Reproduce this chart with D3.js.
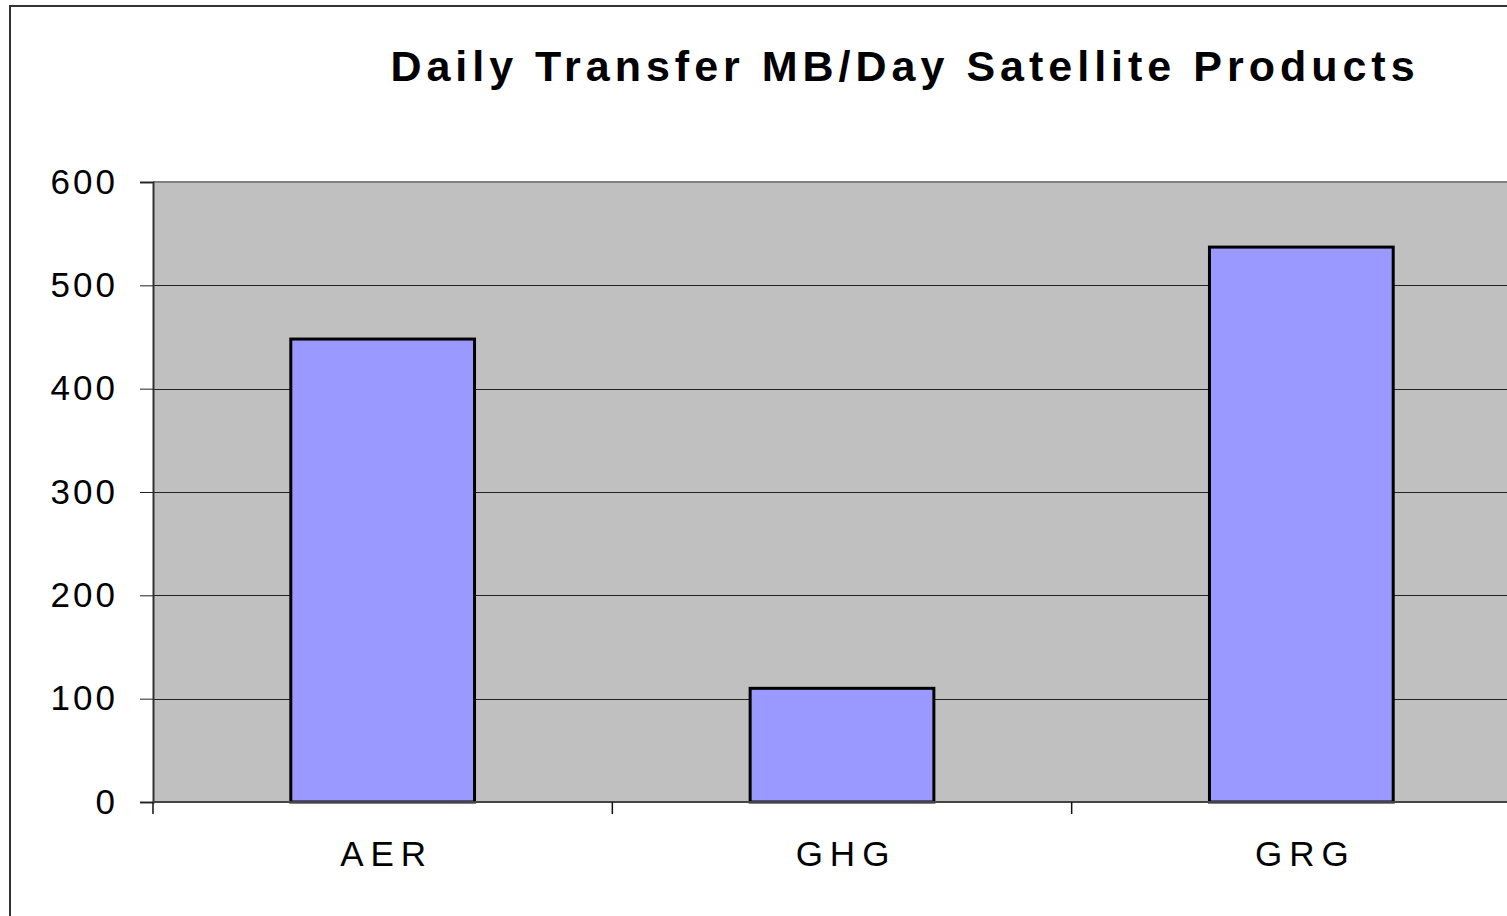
<!DOCTYPE html>
<html>
<head>
<meta charset="utf-8">
<script src="https://cdn.jsdelivr.net/npm/d3@7"></script>
<style>
  body { margin: 0; background: #fff; }
  svg { display: block; }
  text { font-family: "Liberation Sans", Arial, sans-serif; fill: #000; }
</style>
</head>
<body>
<div id="chart"></div>
<script>
// data
var categories = ['AER', 'GHG', 'GRG'];
var values = [448, 110, 537];
var yTicks = [0, 100, 200, 300, 400, 500, 600];
var title = 'Daily Transfer MB/Day Satellite Products';

var width = 1507, height = 916;
var plot = { left: 153, top: 182, bottom: 802, right: 1531 };

var svg = d3.select('#chart').append('svg')
    .attr('width', width)
    .attr('height', height);

// outer frame
svg.append('rect')
    .attr('x', 10).attr('y', 6)
    .attr('width', width + 20).attr('height', height + 20)
    .attr('fill', '#fff')
    .attr('stroke', '#333')
    .attr('stroke-width', 2);

var x = d3.scaleBand()
    .domain(categories)
    .range([plot.left, plot.right])
    .paddingInner(0.6)
    .paddingOuter(0.3);

var y = d3.scaleLinear()
    .domain([0, 600])
    .range([plot.bottom, plot.top]);

// plot background
svg.append('rect')
    .attr('x', plot.left).attr('y', plot.top)
    .attr('width', plot.right - plot.left)
    .attr('height', plot.bottom - plot.top)
    .attr('fill', '#c0c0c0');

svg.append('line')
    .attr('x1', plot.left).attr('x2', plot.right)
    .attr('y1', plot.top).attr('y2', plot.top)
    .attr('stroke', '#808080')
    .attr('stroke-width', 2);

// gridlines
svg.append('g').selectAll('line')
    .data(yTicks.filter(function(d) { return d > 0 && d < 600; }))
    .join('line')
    .attr('x1', plot.left).attr('x2', plot.right)
    .attr('y1', function(d) { return Math.round(y(d)) + 0.5; })
    .attr('y2', function(d) { return Math.round(y(d)) + 0.5; })
    .attr('stroke', '#222')
    .attr('stroke-width', 1);

// bars
svg.append('g').selectAll('rect')
    .data(values)
    .join('rect')
    .attr('x', function(d, i) { return x(categories[i]); })
    .attr('y', function(d) { return y(d); })
    .attr('width', x.bandwidth())
    .attr('height', function(d) { return y(0) - y(d); })
    .attr('fill', '#9999ff')
    .attr('stroke', '#000')
    .attr('stroke-width', 3);

// y axis
var yAxis = svg.append('g')
    .attr('transform', 'translate(' + plot.left + ',0)')
    .call(d3.axisLeft(y).tickValues(yTicks).tickSize(13).tickPadding(22).tickFormat(d3.format('d')));
yAxis.select('.domain').attr('stroke', '#333').attr('stroke-width', 2);
yAxis.selectAll('.tick line').attr('stroke', '#222');
yAxis.selectAll('.tick text')
    .attr('font-size', 35)
    .attr('letter-spacing', 3)
    .attr('font-family', '"Liberation Sans", Arial, sans-serif')
    .attr('fill', '#000');

// x axis: ticks at band boundaries
var bounds = categories.map(function(c) { return x(c) - x.step() * 0.3; });
var xAxis = svg.append('g');
xAxis.append('line')
    .attr('x1', plot.left).attr('x2', plot.right)
    .attr('y1', plot.bottom).attr('y2', plot.bottom)
    .attr('stroke', '#444')
    .attr('stroke-width', 2);
xAxis.selectAll('line.tick')
    .data(bounds)
    .join('line')
    .attr('class', 'tick')
    .attr('x1', function(d) { return d; }).attr('x2', function(d) { return d; })
    .attr('y1', plot.bottom).attr('y2', plot.bottom + 12)
    .attr('stroke', '#111')
    .attr('stroke-width', 1.5);
xAxis.selectAll('text')
    .data(categories)
    .join('text')
    .attr('x', function(d) { return x(d) + x.bandwidth() / 2 + 4; })
    .attr('y', 866)
    .attr('text-anchor', 'middle')
    .attr('font-size', 35)
    .attr('letter-spacing', 7)
    .text(function(d) { return d; });

// title
svg.append('text')
    .attr('x', 905)
    .attr('y', 81)
    .attr('text-anchor', 'middle')
    .attr('font-size', 43)
    .attr('font-weight', 'bold')
    .attr('letter-spacing', 5)
    .text(title);
</script>
</body>
</html>
